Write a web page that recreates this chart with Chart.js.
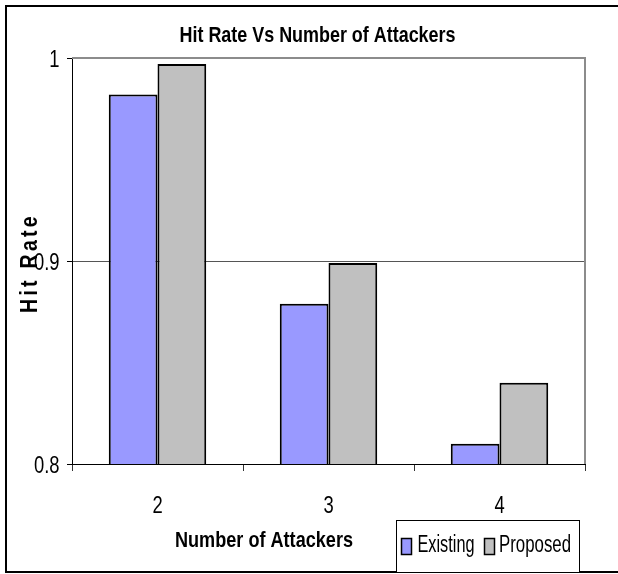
<!DOCTYPE html>
<html>
<head>
<meta charset="utf-8">
<script src="https://cdn.jsdelivr.net/npm/chart.js@4"></script>
<style>
  html, body { margin: 0; padding: 0; background: #fff; }
  #wrap { width: 618px; height: 574px; }
</style>
</head>
<body>
<div id="wrap"><canvas id="c" width="618" height="574"></canvas></div>
<script>
// Hit rate per number of attackers
const categories = ['2', '3', '4'];
const existing = [0.982, 0.879, 0.810];
const proposed = [0.997, 0.899, 0.840];
const yTicks = [0.8, 0.9, 1];

const chartTitle = 'Hit Rate Vs Number of Attackers';
const xTitle = 'Number of Attackers';
const yTitle = 'Hit Rate';

const FONT = "'Liberation Sans', Arial, sans-serif";
const SQUEEZE = 0.8; // condensed look for tick labels

function tickText(v) { return String(+Number(v).toFixed(1)); }

// Outer frame, plot frame, titles, tick labels and legend box
const decor = {
  id: 'decor',
  beforeDraw(chart) {
    const ctx = chart.ctx;
    ctx.save();
    ctx.fillStyle = '#fff';
    ctx.fillRect(0, 0, chart.width, chart.height);
    ctx.strokeStyle = '#000';
    ctx.lineWidth = 2;
    ctx.beginPath();
    ctx.moveTo(chart.width + 2, 6);
    ctx.lineTo(6, 6);
    ctx.lineTo(6, 572);
    ctx.lineTo(chart.width + 2, 572);
    ctx.stroke();
    ctx.restore();
  },
  beforeDatasetsDraw(chart) {
    const ctx = chart.ctx;
    const a = chart.chartArea;
    ctx.save();
    ctx.strokeStyle = '#8c8c8c';
    ctx.lineWidth = 2;
    ctx.beginPath();
    ctx.moveTo(a.left, a.top);
    ctx.lineTo(a.right, a.top);
    ctx.lineTo(a.right, a.bottom);
    ctx.stroke();
    ctx.restore();
  },
  afterDraw(chart) {
    const ctx = chart.ctx;
    const xs = chart.scales.x, ys = chart.scales.y;
    ctx.save();
    ctx.fillStyle = '#000';
    ctx.textBaseline = 'alphabetic';

    // tick labels, placed from the scales
    ctx.font = '23px ' + FONT;
    ctx.textAlign = 'right';
    ys.ticks.forEach(t => {
      const py = ys.getPixelForValue(t.value);
      ctx.save();
      ctx.translate(ys.right - 12.5, py + 8.5);
      ctx.scale(SQUEEZE, 1);
      ctx.fillText(tickText(t.value), 0, 0);
      ctx.restore();
    });
    ctx.textAlign = 'center';
    xs.ticks.forEach((t, i) => {
      const px = xs.getPixelForTick(i);
      ctx.save();
      ctx.translate(px, xs.top + 49);
      ctx.scale(SQUEEZE, 1);
      ctx.fillText(chart.data.labels[i], 0, 0);
      ctx.restore();
    });

    // chart title
    ctx.font = 'bold 22px ' + FONT;
    ctx.textAlign = 'center';
    ctx.fillText(chartTitle, 317.5, 42, 276);

    // x axis title
    ctx.fillText(xTitle, 264, 547, 178);

    // y axis title, rotated, letter-spaced
    ctx.save();
    ctx.translate(37, 263);
    ctx.rotate(-Math.PI / 2);
    ctx.font = 'bold 24px ' + FONT;
    if ('letterSpacing' in ctx) ctx.letterSpacing = '4px';
    ctx.textAlign = 'center';
    ctx.fillText(yTitle, 0, 0, 100);
    ctx.restore();

    // legend
    const lx = 396, ly = 520, lw = 183, lh = 52;
    ctx.fillStyle = '#fff';
    ctx.fillRect(lx, ly, lw, lh);
    ctx.strokeStyle = '#000';
    ctx.lineWidth = 1;
    ctx.strokeRect(lx + 0.5, ly + 0.5, lw, lh);

    const items = [
      { ds: chart.data.datasets[0], sx: 401.5, tx: 417.5, tw: 57 },
      { ds: chart.data.datasets[1], sx: 484.5, tx: 499, tw: 72 }
    ];
    ctx.font = '23px ' + FONT;
    ctx.textAlign = 'left';
    items.forEach(it => {
      ctx.fillStyle = it.ds.backgroundColor;
      ctx.fillRect(it.sx, 538.5, 10, 16);
      ctx.strokeStyle = '#000';
      ctx.lineWidth = 1.5;
      ctx.strokeRect(it.sx, 538.5, 10, 16);
      ctx.fillStyle = '#000';
      ctx.fillText(it.ds.label, it.tx, 552, it.tw);
    });
    ctx.restore();
  }
};

new Chart(document.getElementById('c'), {
  type: 'bar',
  data: {
    labels: categories,
    datasets: [
      {
        label: 'Existing',
        data: existing,
        backgroundColor: '#9999ff',
        borderColor: '#000',
        borderWidth: { top: 2, left: 2, right: 2, bottom: 0 },
        categoryPercentage: 0.57,
        barPercentage: 1.0
      },
      {
        label: 'Proposed',
        data: proposed,
        backgroundColor: '#c0c0c0',
        borderColor: '#000',
        borderWidth: { top: 2, left: 2, right: 2, bottom: 0 },
        categoryPercentage: 0.57,
        barPercentage: 1.0
      }
    ]
  },
  options: {
    responsive: false,
    animation: false,
    devicePixelRatio: 1,
    layout: { padding: { left: 0, top: 58, right: 33, bottom: 0 } },
    plugins: {
      legend: { display: false },
      title: { display: false },
      tooltip: { enabled: false }
    },
    scales: {
      x: {
        offset: true,
        grid: {
          offset: true,
          drawOnChartArea: false,
          drawTicks: true,
          tickLength: 7,
          tickColor: '#333',
          lineWidth: 1
        },
        border: { display: true, color: '#000', width: 1 },
        ticks: { display: false },
        afterFit(scale) { scale.height = 574 - 464; }
      },
      y: {
        min: 0.8,
        max: 1,
        afterBuildTicks(scale) {
          scale.ticks = yTicks.map(v => ({ value: v }));
        },
        grid: {
          drawOnChartArea: true,
          drawTicks: true,
          tickLength: 5,
          tickColor: '#000',
          color: (ctx) => (ctx.tick && Math.abs(ctx.tick.value - 0.9) < 1e-9) ? '#555' : 'rgba(0,0,0,0)',
          lineWidth: 1
        },
        border: { display: true, color: '#000', width: 1 },
        ticks: { display: false },
        afterFit(scale) { scale.width = 72; }
      }
    }
  },
  plugins: [decor]
});
</script>
</body>
</html>
